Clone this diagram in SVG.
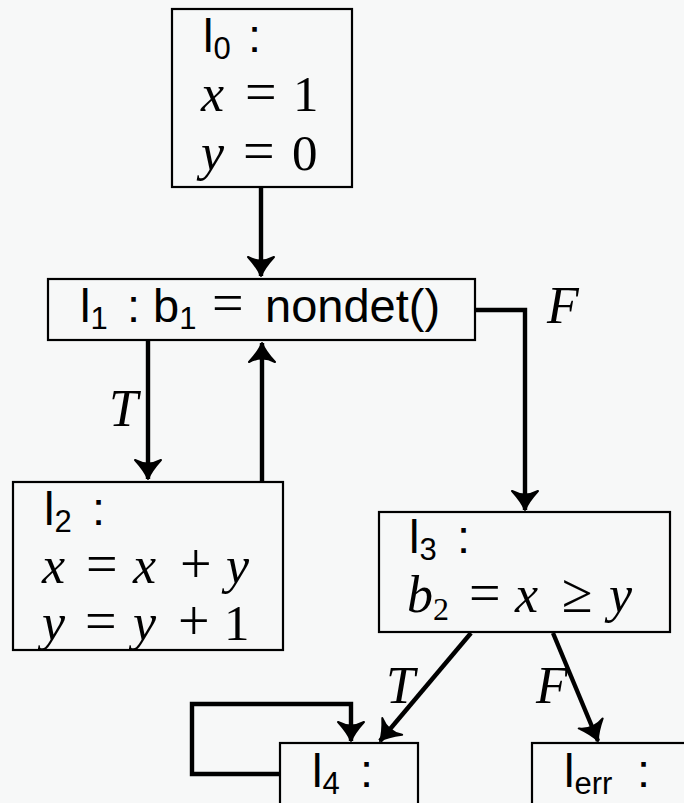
<svg xmlns="http://www.w3.org/2000/svg" width="684" height="803" viewBox="0 0 684 803">
<defs>
<style>
.box{fill:none;stroke:#000;stroke-width:2.2}
.edge{fill:none;stroke:#000;stroke-width:4.4;stroke-linejoin:miter}
.sf{font-family:"Liberation Sans","DejaVu Sans",sans-serif;font-size:47px;fill:#000}
.sub{font-size:31px}
.mi{font-family:"Liberation Serif","DejaVu Serif",serif;font-style:italic;font-size:52px;fill:#000}
.mr{font-family:"Liberation Serif","DejaVu Serif",serif;font-size:51px;fill:#000}
.op{font-family:"Liberation Serif","DejaVu Serif",serif;font-size:56px;fill:#000}
.ms{font-family:"Liberation Serif","DejaVu Serif",serif;font-size:32px;fill:#000}
</style>
<marker id="ah" markerUnits="userSpaceOnUse" markerWidth="30" markerHeight="34" viewBox="-24 -17 28 34" refX="0" refY="0" orient="auto">
<path d="M-19,-13 Q-8,-3 0,0 Q-8,3 -19,13 Q-12,0 -19,-13 Z" fill="#000" stroke="#000" stroke-width="2" stroke-linejoin="round"/>
</marker>
</defs>
<rect width="684" height="803" fill="#f7f8f8"/>

<g id="connectors">
<path class="edge" d="M261,187 V276" marker-end="url(#ah)"/>
<path class="edge" d="M476,310 H525 V510" marker-end="url(#ah)"/>
<path class="edge" d="M148,341 V479" marker-end="url(#ah)"/>
<path class="edge" d="M262,482 V343" marker-end="url(#ah)"/>
<path class="edge" d="M471,633 L380,741" marker-end="url(#ah)"/>
<path class="edge" d="M553,633 L598,741" marker-end="url(#ah)"/>
<path class="edge" d="M280,774 H192 V704 H351 V741" marker-end="url(#ah)"/>
<text class="mi" x="547" y="323">F</text>
<text class="mi" x="109" y="426">T</text>
<text class="mi" x="386" y="703">T</text>
<text class="mi" x="536" y="703">F</text>
</g>

<g id="l0">
<rect class="box" x="172" y="9" width="180" height="178"/>
<text class="sf" x="203" y="52">l<tspan class="sub" dy="7">0</tspan><tspan dy="-7" x="248">:</tspan></text>
<text y="111"><tspan class="mi" x="201">x</tspan><tspan class="op" x="245">=</tspan><tspan class="mr" x="293">1</tspan></text>
<text y="170"><tspan class="mi" x="201">y</tspan><tspan class="op" x="243">=</tspan><tspan class="mr" x="292">0</tspan></text>
</g>

<g id="l1">
<rect class="box" x="48" y="279" width="427" height="61"/>
<text class="sf" x="80" y="322">l<tspan class="sub" dy="7">1</tspan><tspan dy="-7" x="127">:</tspan><tspan x="153">b</tspan><tspan class="sub" dy="7">1</tspan><tspan dy="-7" x="212" class="op">=</tspan><tspan x="265">nondet()</tspan></text>
</g>

<g id="l2">
<rect class="box" x="13" y="482" width="270" height="168"/>
<text class="sf" x="44" y="525">l<tspan class="sub" dy="7">2</tspan><tspan dy="-7" x="92">:</tspan></text>
<text y="583"><tspan class="mi" x="42">x</tspan><tspan class="op" x="86">=</tspan><tspan class="mi" x="133">x</tspan><tspan class="op" x="180">+</tspan><tspan class="mi" x="226">y</tspan></text>
<text y="640"><tspan class="mi" x="42">y</tspan><tspan class="op" x="85">=</tspan><tspan class="mi" x="133">y</tspan><tspan class="op" x="178">+</tspan><tspan class="mr" x="224">1</tspan></text>
</g>

<g id="l3">
<rect class="box" x="379" y="512" width="291" height="120"/>
<text class="sf" x="409" y="553">l<tspan class="sub" dy="7">3</tspan><tspan dy="-7" x="457">:</tspan></text>
<text y="612"><tspan class="mi" x="407">b</tspan><tspan class="ms" dy="8">2</tspan><tspan class="op" x="469" dy="-8">=</tspan><tspan class="mi" x="515">x</tspan><tspan class="op" x="562">≥</tspan><tspan class="mi" x="609">y</tspan></text>
</g>

<g id="l4">
<rect class="box" x="280" y="743" width="138" height="70"/>
<text class="sf" x="312" y="787">l<tspan class="sub" dy="7">4</tspan><tspan dy="-7" x="360">:</tspan></text>
</g>

<g id="lerr">
<rect class="box" x="532" y="743" width="170" height="70"/>
<text class="sf" x="564" y="787">l<tspan class="sub" dy="7">err</tspan><tspan dy="-7" x="637">:</tspan></text>
</g>
</svg>
